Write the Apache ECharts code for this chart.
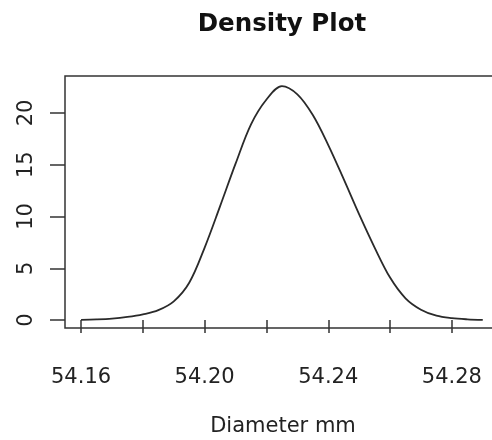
<!DOCTYPE html>
<html>
<head>
<meta charset="utf-8">
<script src="https://cdn.jsdelivr.net/npm/echarts@6/dist/echarts.min.js"></script>
<style>
  html, body { margin: 0; padding: 0; background: #fff; }
  #chart { width: 492px; height: 440px; }
</style>
</head>
<body>
<div id="chart"></div>
<script>
// Kernel density estimate of part diameters (mm)
const diameters = [
  54.160, 54.165, 54.170, 54.175, 54.180, 54.185, 54.190, 54.195,
  54.200, 54.205, 54.210, 54.215, 54.220, 54.225, 54.230, 54.235,
  54.240, 54.245, 54.250, 54.255, 54.260, 54.265, 54.270, 54.275,
  54.280, 54.285, 54.290
];
const density = [
  0.02, 0.06, 0.14, 0.30, 0.55, 0.95, 1.8, 3.6,
  7.0, 11.0, 15.1, 18.9, 21.3, 22.6, 21.8, 19.8,
  16.9, 13.6, 10.2, 7.0, 4.1, 2.1, 1.0, 0.42,
  0.18, 0.07, 0.02
];
const xTickValues = [54.16, 54.18, 54.20, 54.22, 54.24, 54.26, 54.28];
const xLabelValues = [54.16, 54.20, 54.24, 54.28];
const yTickValues = [0, 5, 10, 15, 20];

const font = 'DejaVu Sans';
const ink = '#222';

const chart = echarts.init(document.getElementById('chart'), null, { renderer: 'canvas' });
chart.setOption({
  backgroundColor: '#fff',
  animation: false,
  title: {
    text: 'Density Plot',
    left: 277,
    top: 7,
    textAlign: 'center',
    textStyle: { fontFamily: font, fontSize: 24.5, fontWeight: 'bold', color: '#111' }
  },
  grid: {
    left: 65, width: 436, top: 76, height: 252,
    outerBoundsMode: 'none',
    containLabel: false,
    show: true, borderColor: '#333', borderWidth: 1.5, backgroundColor: 'transparent'
  },
  xAxis: {
    type: 'value',
    min: 54.1548,
    max: 54.2959,
    name: 'Diameter mm',
    nameLocation: 'middle',
    nameGap: 88,
    nameTextStyle: { fontFamily: font, fontSize: 21, color: ink },
    axisLine: { show: false },
    axisTick: {
      show: true, length: 13, customValues: xTickValues,
      lineStyle: { color: '#333', width: 1.5 }
    },
    axisLabel: {
      customValues: xLabelValues,
      margin: 39,
      fontFamily: font, fontSize: 21, color: ink,
      formatter: v => v.toFixed(2)
    },
    splitLine: { show: false }
  },
  yAxis: {
    type: 'value',
    min: -0.77,
    max: 23.57,
    axisLine: { show: false },
    axisTick: {
      show: true, length: 15, customValues: yTickValues,
      lineStyle: { color: '#333', width: 1.5 }
    },
    axisLabel: {
      customValues: yTickValues,
      rotate: 90,
      margin: 28,
      fontFamily: font, fontSize: 21, color: ink
    },
    splitLine: { show: false }
  },
  series: [{
    type: 'line',
    data: diameters.map((d, i) => [d, density[i]]),
    smooth: 0.35,
    showSymbol: false,
    lineStyle: { color: '#2a2a2a', width: 1.8 }
  }]
});
</script>
</body>
</html>
